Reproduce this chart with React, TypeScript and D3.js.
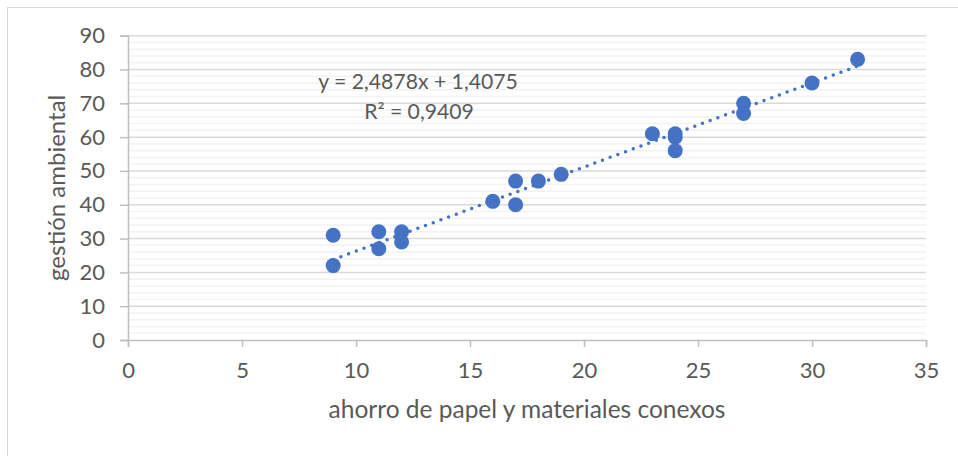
import React, { useEffect, useRef } from "react";
import * as d3 from "d3";

// ahorro de papel (x) vs gestión ambiental (y)
const ahorro = [9, 9, 11, 11, 12, 12, 16, 17, 17, 18, 19, 23, 24, 24, 24, 27, 27, 30, 32];
const gestion = [31, 22, 32, 27, 32, 29, 41, 47, 40, 47, 49, 61, 61, 60, 56, 70, 67, 76, 83];
const xTicks = [0, 5, 10, 15, 20, 25, 30, 35];
const yTicks = [0, 10, 20, 30, 40, 50, 60, 70, 80, 90];
const slope = 2.4878;
const intercept = 1.4075;
const eqLabel = "y = 2,4878x + 1,4075";
const r2Label = "R² = 0,9409";

const W = 958;
const H = 456;
const FONT = "Lato, 'Open Sans', sans-serif";
const TXT = "#595959";

export default function App() {
  const svgRef = useRef<SVGSVGElement | null>(null);

  useEffect(() => {
    if (!svgRef.current) return;
    const svg = d3.select(svgRef.current);
    svg.selectAll("*").remove();

    const left = 128, right = 926, top = 35.7, bottom = 340;
    const x = d3.scaleLinear().domain([0, 35]).range([left, right]);
    const y = d3.scaleLinear().domain([0, 90]).range([bottom, top]);

    // fond + bordure du graphique
    svg.append("rect").attr("width", W).attr("height", H).attr("fill", "#fff");
    svg
      .append("rect")
      .attr("x", 7.5)
      .attr("y", 7.5)
      .attr("width", W + 20)
      .attr("height", H + 20)
      .attr("fill", "none")
      .attr("stroke", "#d9d9d9")
      .attr("stroke-width", 1);

    // grille secondaire (tous les 2)
    const minor = d3.range(2, 90, 2).filter((v) => v % 10 !== 0);
    svg
      .append("g")
      .selectAll("line")
      .data(minor)
      .enter()
      .append("line")
      .attr("x1", left)
      .attr("x2", right)
      .attr("y1", (d) => y(d))
      .attr("y2", (d) => y(d))
      .style("stroke", "#f2f2f2")
      .style("stroke-width", 1.5);

    // grille principale
    svg
      .append("g")
      .selectAll("line")
      .data(yTicks.filter((v) => v > 0))
      .enter()
      .append("line")
      .attr("x1", left)
      .attr("x2", right)
      .attr("y1", (d) => y(d))
      .attr("y2", (d) => y(d))
      .style("stroke", "#d9d9d9")
      .style("stroke-width", 1.5);

    // axe Y
    const yAxis = svg
      .append("g")
      .attr("transform", `translate(${left},0)`)
      .call(d3.axisLeft(y).tickValues(yTicks).tickSize(8).tickPadding(15));
    yAxis.select(".domain").attr("stroke", "#bfbfbf").attr("stroke-width", 1.5);
    yAxis.selectAll(".tick line").attr("stroke", "#bfbfbf").attr("stroke-width", 1.5);
    yAxis
      .selectAll("text")
      .style("fill", TXT)
      .style("font-family", FONT)
      .style("font-size", "22px");

    // axe X
    const xAxis = svg
      .append("g")
      .attr("transform", `translate(0,${bottom})`)
      .call(d3.axisBottom(x).tickValues(xTicks).tickSize(7).tickPadding(15));
    xAxis.select(".domain").attr("stroke", "#bfbfbf").attr("stroke-width", 1.5);
    xAxis.selectAll(".tick line").attr("stroke", "#bfbfbf").attr("stroke-width", 1.5);
    xAxis
      .selectAll("text")
      .style("fill", TXT)
      .style("font-family", FONT)
      .style("font-size", "22px");

    // titres des axes
    svg
      .append("text")
      .attr("x", (left + right) / 2)
      .attr("y", 418)
      .attr("text-anchor", "middle")
      .style("fill", TXT)
      .style("font-family", FONT)
      .style("font-size", "24.5px")
      .text("ahorro de papel y materiales conexos");

    svg
      .append("text")
      .attr("transform", `translate(65,${(top + bottom) / 2}) rotate(-90)`)
      .attr("text-anchor", "middle")
      .style("fill", TXT)
      .style("font-family", FONT)
      .style("font-size", "24px")
      .text("gestión ambiental");

    // points
    const pts = ahorro.map((v, i) => ({ x: v, y: gestion[i] }));
    svg
      .append("g")
      .selectAll("circle")
      .data(pts)
      .enter()
      .append("circle")
      .attr("cx", (d) => x(d.x))
      .attr("cy", (d) => y(d.y))
      .attr("r", 7.5)
      .attr("fill", "#4472c4");

    // courbe de tendance linéaire (pointillés)
    const x0 = d3.min(ahorro)!;
    const x1 = d3.max(ahorro)!;
    svg
      .append("line")
      .attr("x1", x(x0))
      .attr("y1", y(slope * x0 + intercept))
      .attr("x2", x(x1))
      .attr("y2", y(slope * x1 + intercept))
      .style("stroke", "#4472c4")
      .style("stroke-width", 3.5)
      .style("stroke-linecap", "round")
      .style("stroke-dasharray", "0 8.2");

    // équation
    svg
      .append("text")
      .attr("x", 418)
      .attr("y", 89)
      .attr("text-anchor", "middle")
      .style("fill", TXT)
      .style("font-family", FONT)
      .style("font-size", "21.2px")
      .text(eqLabel);
    svg
      .append("text")
      .attr("x", 419)
      .attr("y", 119)
      .attr("text-anchor", "middle")
      .style("fill", TXT)
      .style("font-family", FONT)
      .style("font-size", "21.2px")
      .text(r2Label);
  }, []);

  return (
    <div style={{ position: "absolute", left: 0, top: 0 }}>
      <svg ref={svgRef} width={W} height={H} style={{ display: "block" }} />
    </div>
  );
}
